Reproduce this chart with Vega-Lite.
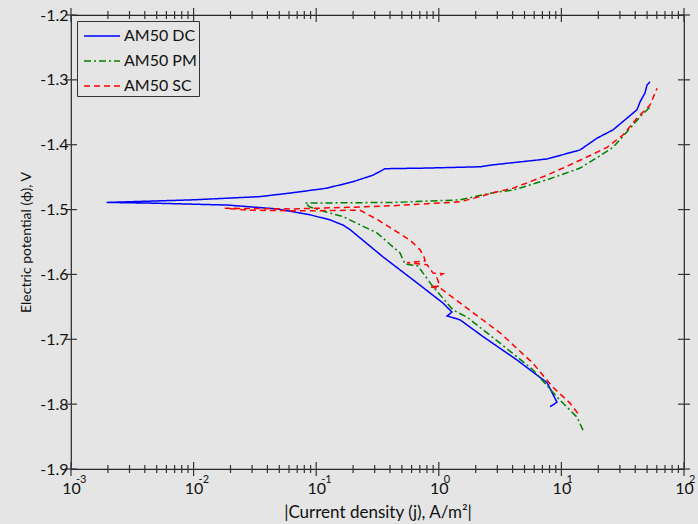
{
  "$schema": "https://vega.github.io/schema/vega-lite/v6.json",
  "width": 613,
  "height": 454,
  "autosize": "none",
  "padding": {"left": 71, "top": 15, "right": 14, "bottom": 55},
  "background": "#e5e5e5",
  "config": {
    "font": "Lato",
    "view": {"stroke": "#262626", "strokeWidth": 1.2, "fill": null},
    "axis": {
      "grid": false,
      "domain": false,
      "ticks": false,
      "labelColor": "#111",
      "labelFont": "Lato",
      "labelFontSize": 16,
      "titleFont": "Lato",
      "titleColor": "#111",
      "titleFontWeight": "normal"
    },
    "tick": {"opacity": 1, "color": "#333333", "thickness": 1.2},
    "legend": {
      "title": null,
      "orient": "none",
      "legendX": 6,
      "legendY": 6,
      "symbolType": "M-1.5,0H1.5",
      "symbolSize": 576,
      "symbolOffset": 10,
      "symbolStrokeWidth": 1.5,
      "labelFontSize": 16,
      "labelFont": "Lato",
      "labelColor": "#111",
      "strokeColor": "#333",
      "fillColor": "#e5e5e5",
      "padding": 2,
      "rowPadding": 4,
      "labelOffset": 9
    }
  },
  "datasets": {
    "curves": [
      {"series": "AM50 DC", "i": 1, "j": 8.07, "v": -1.804},
      {"series": "AM50 DC", "i": 2, "j": 9.2, "v": -1.797},
      {"series": "AM50 DC", "i": 3, "j": 7.64, "v": -1.767},
      {"series": "AM50 DC", "i": 4, "j": 4.35, "v": -1.732},
      {"series": "AM50 DC", "i": 5, "j": 2.3, "v": -1.696},
      {"series": "AM50 DC", "i": 6, "j": 1.49, "v": -1.67},
      {"series": "AM50 DC", "i": 7, "j": 1.17, "v": -1.664},
      {"series": "AM50 DC", "i": 8, "j": 1.28, "v": -1.658},
      {"series": "AM50 DC", "i": 9, "j": 1.08, "v": -1.644},
      {"series": "AM50 DC", "i": 10, "j": 0.664, "v": -1.613},
      {"series": "AM50 DC", "i": 11, "j": 0.351, "v": -1.573},
      {"series": "AM50 DC", "i": 12, "j": 0.189, "v": -1.531},
      {"series": "AM50 DC", "i": 13, "j": 0.166, "v": -1.524},
      {"series": "AM50 DC", "i": 14, "j": 0.13, "v": -1.516},
      {"series": "AM50 DC", "i": 15, "j": 0.0889, "v": -1.508},
      {"series": "AM50 DC", "i": 16, "j": 0.0479, "v": -1.499},
      {"series": "AM50 DC", "i": 17, "j": 0.0187, "v": -1.493},
      {"series": "AM50 DC", "i": 18, "j": 0.00441, "v": -1.49},
      {"series": "AM50 DC", "i": 19, "j": 0.00195, "v": -1.489},
      {"series": "AM50 DC", "i": 20, "j": 0.00989, "v": -1.485},
      {"series": "AM50 DC", "i": 21, "j": 0.0348, "v": -1.48},
      {"series": "AM50 DC", "i": 22, "j": 0.0647, "v": -1.474},
      {"series": "AM50 DC", "i": 23, "j": 0.122, "v": -1.467},
      {"series": "AM50 DC", "i": 24, "j": 0.2, "v": -1.457},
      {"series": "AM50 DC", "i": 25, "j": 0.29, "v": -1.447},
      {"series": "AM50 DC", "i": 26, "j": 0.364, "v": -1.437},
      {"series": "AM50 DC", "i": 27, "j": 0.802, "v": -1.436},
      {"series": "AM50 DC", "i": 28, "j": 2.17, "v": -1.434},
      {"series": "AM50 DC", "i": 29, "j": 2.77, "v": -1.431},
      {"series": "AM50 DC", "i": 30, "j": 7.64, "v": -1.422},
      {"series": "AM50 DC", "i": 31, "j": 14.2, "v": -1.408},
      {"series": "AM50 DC", "i": 32, "j": 19.5, "v": -1.39},
      {"series": "AM50 DC", "i": 33, "j": 26.4, "v": -1.377},
      {"series": "AM50 DC", "i": 34, "j": 34.3, "v": -1.359},
      {"series": "AM50 DC", "i": 35, "j": 41.4, "v": -1.346},
      {"series": "AM50 DC", "i": 36, "j": 43.8, "v": -1.334},
      {"series": "AM50 DC", "i": 37, "j": 48.1, "v": -1.32},
      {"series": "AM50 DC", "i": 38, "j": 49.9, "v": -1.308},
      {"series": "AM50 DC", "i": 39, "j": 52.8, "v": -1.303},

      {"series": "AM50 PM", "i": 1, "j": 15.0, "v": -1.84},
      {"series": "AM50 PM", "i": 2, "j": 13.4, "v": -1.82},
      {"series": "AM50 PM", "i": 3, "j": 9.75, "v": -1.794},
      {"series": "AM50 PM", "i": 4, "j": 5.86, "v": -1.747},
      {"series": "AM50 PM", "i": 5, "j": 3.16, "v": -1.706},
      {"series": "AM50 PM", "i": 6, "j": 1.7, "v": -1.666},
      {"series": "AM50 PM", "i": 7, "j": 1.31, "v": -1.655},
      {"series": "AM50 PM", "i": 8, "j": 0.897, "v": -1.619},
      {"series": "AM50 PM", "i": 9, "j": 0.676, "v": -1.587},
      {"series": "AM50 PM", "i": 10, "j": 0.53, "v": -1.584},
      {"series": "AM50 PM", "i": 11, "j": 0.483, "v": -1.567},
      {"series": "AM50 PM", "i": 12, "j": 0.313, "v": -1.536},
      {"series": "AM50 PM", "i": 13, "j": 0.166, "v": -1.511},
      {"series": "AM50 PM", "i": 14, "j": 0.122, "v": -1.504},
      {"series": "AM50 PM", "i": 15, "j": 0.0889, "v": -1.496},
      {"series": "AM50 PM", "i": 16, "j": 0.0811, "v": -1.49},
      {"series": "AM50 PM", "i": 17, "j": 0.423, "v": -1.489},
      {"series": "AM50 PM", "i": 18, "j": 1.49, "v": -1.485},
      {"series": "AM50 PM", "i": 19, "j": 2.77, "v": -1.474},
      {"series": "AM50 PM", "i": 20, "j": 4.03, "v": -1.47},
      {"series": "AM50 PM", "i": 21, "j": 7.64, "v": -1.454},
      {"series": "AM50 PM", "i": 22, "j": 14.2, "v": -1.436},
      {"series": "AM50 PM", "i": 23, "j": 19.5, "v": -1.42},
      {"series": "AM50 PM", "i": 24, "j": 26.4, "v": -1.404},
      {"series": "AM50 PM", "i": 25, "j": 34.3, "v": -1.38},
      {"series": "AM50 PM", "i": 26, "j": 43.8, "v": -1.357},
      {"series": "AM50 PM", "i": 27, "j": 52.8, "v": -1.342},

      {"series": "AM50 SC", "i": 1, "j": 13.6, "v": -1.814},
      {"series": "AM50 SC", "i": 2, "j": 11.7, "v": -1.798},
      {"series": "AM50 SC", "i": 3, "j": 8.53, "v": -1.774},
      {"series": "AM50 SC", "i": 4, "j": 5.86, "v": -1.737},
      {"series": "AM50 SC", "i": 5, "j": 3.16, "v": -1.69},
      {"series": "AM50 SC", "i": 6, "j": 1.49, "v": -1.644},
      {"series": "AM50 SC", "i": 7, "j": 1.04, "v": -1.622},
      {"series": "AM50 SC", "i": 8, "j": 0.847, "v": -1.619},
      {"series": "AM50 SC", "i": 9, "j": 1.02, "v": -1.618},
      {"series": "AM50 SC", "i": 10, "j": 0.966, "v": -1.605},
      {"series": "AM50 SC", "i": 11, "j": 1.08, "v": -1.599},
      {"series": "AM50 SC", "i": 12, "j": 0.897, "v": -1.598},
      {"series": "AM50 SC", "i": 13, "j": 0.802, "v": -1.585},
      {"series": "AM50 SC", "i": 14, "j": 0.551, "v": -1.582},
      {"series": "AM50 SC", "i": 15, "j": 0.773, "v": -1.579},
      {"series": "AM50 SC", "i": 16, "j": 0.757, "v": -1.573},
      {"series": "AM50 SC", "i": 17, "j": 0.703, "v": -1.562},
      {"series": "AM50 SC", "i": 18, "j": 0.582, "v": -1.547},
      {"series": "AM50 SC", "i": 19, "j": 0.319, "v": -1.516},
      {"series": "AM50 SC", "i": 20, "j": 0.228, "v": -1.501},
      {"series": "AM50 SC", "i": 21, "j": 0.0738, "v": -1.502},
      {"series": "AM50 SC", "i": 22, "j": 0.0288, "v": -1.501},
      {"series": "AM50 SC", "i": 23, "j": 0.018, "v": -1.498},
      {"series": "AM50 SC", "i": 24, "j": 0.0647, "v": -1.499},
      {"series": "AM50 SC", "i": 25, "j": 0.228, "v": -1.496},
      {"series": "AM50 SC", "i": 26, "j": 0.423, "v": -1.494},
      {"series": "AM50 SC", "i": 27, "j": 1.49, "v": -1.488},
      {"series": "AM50 SC", "i": 28, "j": 2.17, "v": -1.48},
      {"series": "AM50 SC", "i": 29, "j": 2.77, "v": -1.474},
      {"series": "AM50 SC", "i": 30, "j": 4.03, "v": -1.467},
      {"series": "AM50 SC", "i": 31, "j": 7.64, "v": -1.447},
      {"series": "AM50 SC", "i": 32, "j": 14.2, "v": -1.424},
      {"series": "AM50 SC", "i": 33, "j": 23.6, "v": -1.404},
      {"series": "AM50 SC", "i": 34, "j": 31.8, "v": -1.385},
      {"series": "AM50 SC", "i": 35, "j": 41.4, "v": -1.359},
      {"series": "AM50 SC", "i": 36, "j": 52.8, "v": -1.339},
      {"series": "AM50 SC", "i": 37, "j": 60.3, "v": -1.313}
    ],
    "decades": [
      {"j": 0.001, "e": "-3"},
      {"j": 0.01, "e": "-2"},
      {"j": 0.1, "e": "-1"},
      {"j": 1, "e": "0"},
      {"j": 10, "e": "1"},
      {"j": 100, "e": "2"}
    ],
    "minors": [
      {"j": 0.002}, {"j": 0.003}, {"j": 0.004}, {"j": 0.005}, {"j": 0.006}, {"j": 0.007}, {"j": 0.008}, {"j": 0.009},
      {"j": 0.02}, {"j": 0.03}, {"j": 0.04}, {"j": 0.05}, {"j": 0.06}, {"j": 0.07}, {"j": 0.08}, {"j": 0.09},
      {"j": 0.2}, {"j": 0.3}, {"j": 0.4}, {"j": 0.5}, {"j": 0.6}, {"j": 0.7}, {"j": 0.8}, {"j": 0.9},
      {"j": 2}, {"j": 3}, {"j": 4}, {"j": 5}, {"j": 6}, {"j": 7}, {"j": 8}, {"j": 9},
      {"j": 20}, {"j": 30}, {"j": 40}, {"j": 50}, {"j": 60}, {"j": 70}, {"j": 80}, {"j": 90}
    ],
    "yticks": [
      {"v": -1.9}, {"v": -1.8}, {"v": -1.7}, {"v": -1.6}, {"v": -1.5}, {"v": -1.4}, {"v": -1.3}, {"v": -1.2}
    ]
  },
  "layer": [
    {
      "data": {"name": "curves"},
      "mark": {"type": "line", "strokeWidth": 1.5, "clip": true},
      "encoding": {
        "x": {
          "field": "j",
          "type": "quantitative",
          "scale": {"type": "log", "domain": [0.001, 100], "nice": false},
          "axis": {
            "orient": "bottom",
            "title": "|Current density (j), A/m²|",
            "titleFontSize": 17,
            "titlePadding": 8,
            "values": [0.001, 0.01, 0.1, 1, 10, 100],
            "labelExpr": "'10'",
            "labelOverlap": false,
            "labelFlush": false,
            "labelBound": false,
            "labelDx": -5,
            "labelPadding": 11
          }
        },
        "y": {
          "field": "v",
          "type": "quantitative",
          "scale": {"domain": [-1.9, -1.2], "nice": false, "zero": false},
          "axis": {
            "orient": "left",
            "title": "Electric potential (ϕ), V",
            "titleFontSize": 14,
            "titlePadding": 6,
            "values": [-1.9, -1.8, -1.7, -1.6, -1.5, -1.4, -1.3, -1.2],
            "labelExpr": "replace(format(datum.value, '.1f'), '\u2212', '-')",
            "labelPadding": 3,
            "labelFlush": false,
            "labelOverlap": false
          }
        },
        "color": {
          "field": "series",
          "type": "nominal",
          "scale": {"domain": ["AM50 DC", "AM50 PM", "AM50 SC"], "range": ["#0000ff", "#008000", "#ff0000"]}
        },
        "strokeDash": {
          "field": "series",
          "type": "nominal",
          "scale": {"domain": ["AM50 DC", "AM50 PM", "AM50 SC"], "range": [[1, 0], [7, 3, 2, 3], [6, 4]]}
        },
        "order": {"field": "i", "type": "quantitative"}
      }
    },
    {
      "data": {"name": "decades"},
      "mark": {"type": "text", "align": "left", "baseline": "middle", "dx": 5, "dy": 11, "fontSize": 11, "font": "Lato", "color": "#111"},
      "encoding": {
        "x": {"field": "j", "type": "quantitative"},
        "y": {"datum": -1.9, "type": "quantitative"},
        "text": {"field": "e"}
      }
    },
    {
      "data": {"name": "decades"},
      "mark": {"type": "tick", "orient": "vertical", "size": 14},
      "encoding": {
        "x": {"field": "j", "type": "quantitative"},
        "y": {"datum": -1.9, "type": "quantitative"}
      }
    },
    {
      "data": {"name": "decades"},
      "mark": {"type": "tick", "orient": "vertical", "size": 14},
      "encoding": {
        "x": {"field": "j", "type": "quantitative"},
        "y": {"datum": -1.2, "type": "quantitative"}
      }
    },
    {
      "data": {"name": "minors"},
      "mark": {"type": "tick", "orient": "vertical", "size": 8},
      "encoding": {
        "x": {"field": "j", "type": "quantitative"},
        "y": {"datum": -1.9, "type": "quantitative"}
      }
    },
    {
      "data": {"name": "minors"},
      "mark": {"type": "tick", "orient": "vertical", "size": 8},
      "encoding": {
        "x": {"field": "j", "type": "quantitative"},
        "y": {"datum": -1.2, "type": "quantitative"}
      }
    },
    {
      "data": {"name": "yticks"},
      "mark": {"type": "tick", "orient": "horizontal", "size": 12},
      "encoding": {
        "x": {"datum": 0.001, "type": "quantitative"},
        "y": {"field": "v", "type": "quantitative"}
      }
    },
    {
      "data": {"name": "yticks"},
      "mark": {"type": "tick", "orient": "horizontal", "size": 12},
      "encoding": {
        "x": {"datum": 100, "type": "quantitative"},
        "y": {"field": "v", "type": "quantitative"}
      }
    }
  ]
}
